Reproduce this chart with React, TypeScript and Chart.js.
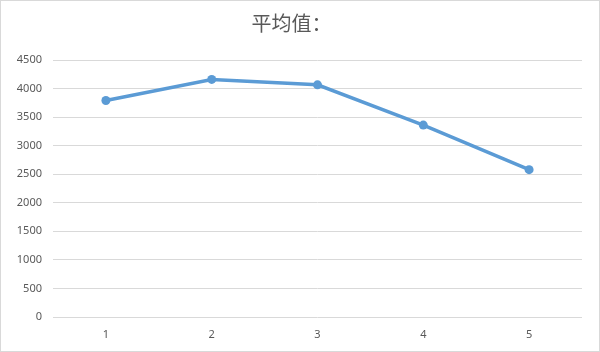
import React, { useEffect, useRef } from "react";
import { Chart, registerables } from "chart.js";

Chart.register(...registerables);

const titleText = "平均值：";
const categories = ["1", "2", "3", "4", "5"];
const averageValues = [3790, 4160, 4065, 3360, 2580];
const yTicksMin = 0;
const yTicksMax = 4500;
const yTicksStep = 500;

export default function App() {
  const canvasRef = useRef<HTMLCanvasElement | null>(null);

  useEffect(() => {
    document.body.style.margin = "0";
    const ctx = canvasRef.current!.getContext("2d")!;
    const chart = new Chart(ctx, {
      type: "line",
      data: {
        labels: categories,
        datasets: [
          {
            label: titleText,
            data: averageValues,
            borderColor: "#5B9BD5",
            backgroundColor: "#5B9BD5",
            borderWidth: 3.5,
            pointRadius: 4.5,
            pointBorderWidth: 0,
            pointBackgroundColor: "#5B9BD5",
            tension: 0,
          },
        ],
      },
      options: {
        responsive: false,
        animation: false,
        layout: { padding: { left: 0, right: 17, top: 0, bottom: 0 } },
        plugins: {
          legend: { display: false },
          tooltip: { enabled: false },
          title: {
            display: true,
            text: titleText,
            color: "#595959",
            font: { family: "'Noto Sans CJK SC', sans-serif", size: 20, weight: "normal" },
            padding: { top: 10, bottom: 25 },
          },
        },
        scales: {
          x: {
            offset: true,
            grid: { display: false, drawTicks: false },
            border: { display: false },
            ticks: {
              color: "#595959",
              font: { family: "'Noto Sans', sans-serif", size: 11 },
              padding: 11,
            },
            afterFit: (scale: any) => {
              scale.height = 34;
            },
          },
          y: {
            min: yTicksMin,
            max: yTicksMax,
            grid: { color: "#D9D9D9", lineWidth: 1, drawTicks: false },
            border: { display: false },
            ticks: {
              stepSize: yTicksStep,
              color: "#595959",
              font: { family: "'Noto Sans', sans-serif", size: 11 },
              padding: 11,
              callback: (v: any) => String(v),
            },
            afterFit: (scale: any) => {
              scale.width = 52;
            },
          },
        },
      },
    });
    return () => chart.destroy();
  }, []);

  return (
    <div
      style={{
        position: "fixed",
        left: 0,
        top: 0,
        width: 600,
        height: 352,
        boxSizing: "border-box",
        border: "1px solid #D9D9D9",
        background: "#fff",
      }}
    >
      <canvas ref={canvasRef} width={598} height={350} style={{ display: "block" }} />
    </div>
  );
}
